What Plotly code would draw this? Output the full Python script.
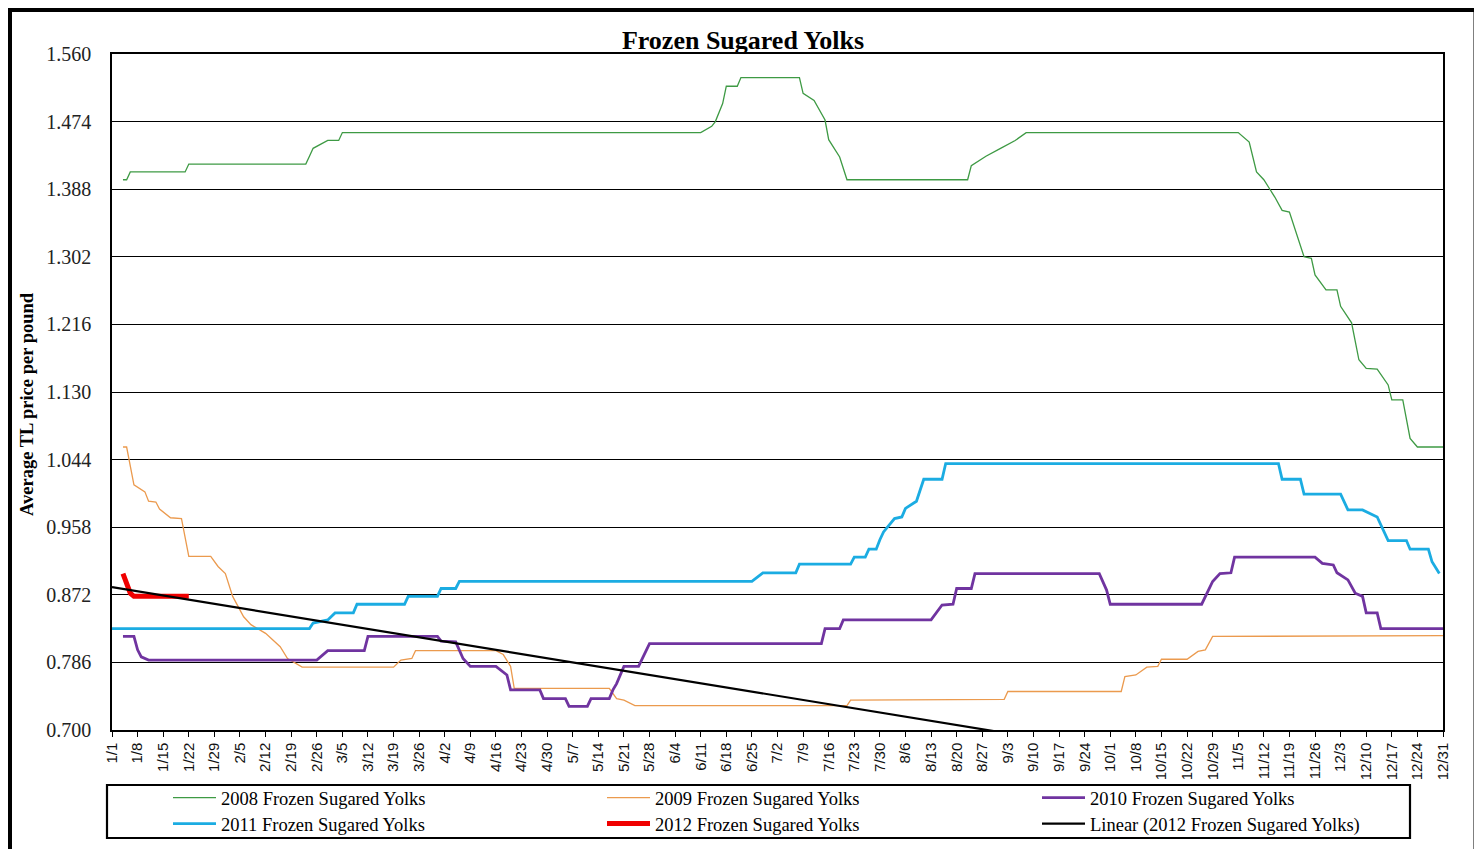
import numpy as np
import plotly.graph_objects as go

# ---------------- data (day index: 0 = 1/1) ----------------
tick_days = list(range(0, 365, 7))
tick_labels = ["1/1", "1/8", "1/15", "1/22", "1/29", "2/5", "2/12", "2/19", "2/26",
               "3/5", "3/12", "3/19", "3/26", "4/2", "4/9", "4/16", "4/23", "4/30",
               "5/7", "5/14", "5/21", "5/28", "6/4", "6/11", "6/18", "6/25",
               "7/2", "7/9", "7/16", "7/23", "7/30", "8/6", "8/13", "8/20", "8/27",
               "9/3", "9/10", "9/17", "9/24", "10/1", "10/8", "10/15", "10/22", "10/29",
               "11/5", "11/12", "11/19", "11/26", "12/3", "12/10", "12/17", "12/24", "12/31"]
y_ticks = [0.700, 0.786, 0.872, 0.958, 1.044, 1.130, 1.216, 1.302, 1.388, 1.474, 1.560]

days_2008 = [3, 4, 5, 20, 21, 53, 54, 55, 59, 62, 63, 161, 164, 165, 167, 168, 171, 172,
             188, 189, 192, 194, 195, 196, 199, 201, 234, 235, 239, 243, 247, 250, 308,
             311, 313, 315, 318, 320, 322, 326, 328, 329, 332, 335, 336, 339, 341, 343,
             346, 349, 350, 353, 355, 357, 364]
price_2008 = [1.400, 1.400, 1.410, 1.410, 1.420, 1.420, 1.430, 1.440, 1.450, 1.450, 1.460,
              1.460, 1.468, 1.474, 1.497, 1.519, 1.519, 1.530, 1.530, 1.510, 1.501, 1.485,
              1.476, 1.451, 1.429, 1.400, 1.400, 1.418, 1.430, 1.440, 1.450, 1.460, 1.460,
              1.448, 1.410, 1.400, 1.378, 1.361, 1.359, 1.302, 1.300, 1.279, 1.260, 1.260,
              1.239, 1.218, 1.171, 1.160, 1.159, 1.139, 1.120, 1.120, 1.071, 1.060, 1.060]

days_2009 = [3, 4, 6, 9, 10, 12, 13, 16, 19, 21, 27, 29, 31, 33, 36, 38, 42, 46, 48, 52,
             77, 79, 82, 83, 105, 107, 109, 110, 136, 138, 140, 143, 201, 202, 244, 245,
             276, 277, 280, 283, 286, 287, 294, 297, 299, 301, 364]
price_2009 = [1.060, 1.060, 1.012, 1.003, 0.991, 0.990, 0.981, 0.970, 0.969, 0.921, 0.921,
              0.908, 0.899, 0.870, 0.844, 0.834, 0.823, 0.806, 0.791, 0.780, 0.780, 0.789,
              0.791, 0.801, 0.801, 0.796, 0.781, 0.753, 0.753, 0.740, 0.738, 0.731, 0.731,
              0.738, 0.739, 0.749, 0.749, 0.768, 0.770, 0.780, 0.781, 0.790, 0.790, 0.800,
              0.802, 0.819, 0.820]

days_2010 = [3, 6, 7, 8, 10, 56, 59, 69, 70, 89, 90, 94, 96, 98, 105, 108, 109, 117, 118,
             124, 125, 130, 131, 136, 137, 138, 140, 144, 147, 194, 195, 199, 200, 224, 227,
             230, 231, 235, 236, 270, 272, 273, 298, 299, 301, 303, 306, 307, 329, 331, 334,
             335, 338, 340, 342, 343, 346, 347, 364]
price_2010 = [0.819, 0.819, 0.802, 0.793, 0.789, 0.789, 0.801, 0.801, 0.819, 0.819, 0.813,
              0.812, 0.791, 0.781, 0.781, 0.770, 0.751, 0.751, 0.740, 0.740, 0.730, 0.730,
              0.740, 0.740, 0.751, 0.759, 0.781, 0.781, 0.810, 0.810, 0.829, 0.829, 0.840,
              0.840, 0.859, 0.860, 0.880, 0.880, 0.899, 0.899, 0.878, 0.860, 0.860, 0.870,
              0.889, 0.899, 0.900, 0.920, 0.920, 0.912, 0.910, 0.900, 0.891, 0.874, 0.870,
              0.849, 0.849, 0.829, 0.829]

days_2011 = [0, 54, 55, 59, 61, 66, 67, 80, 81, 89, 90, 94, 95, 175, 178, 187, 188, 202,
             203, 206, 207, 209, 210, 211, 214, 216, 217, 220, 222, 227, 228, 319, 320, 325,
             326, 336, 338, 342, 346, 349, 354, 355, 360, 361, 363]
price_2011 = [0.829, 0.829, 0.836, 0.840, 0.849, 0.849, 0.860, 0.860, 0.870, 0.870, 0.880,
              0.880, 0.889, 0.889, 0.900, 0.900, 0.911, 0.911, 0.920, 0.920, 0.930, 0.930,
              0.942, 0.952, 0.969, 0.971, 0.982, 0.991, 1.019, 1.019, 1.039, 1.039, 1.019,
              1.019, 1.000, 1.000, 0.980, 0.980, 0.971, 0.941, 0.941, 0.930, 0.930, 0.914,
              0.899]

days_2012 = [3, 4, 5, 6, 7, 8, 9, 10, 11, 12, 13, 14, 15, 16, 17, 18, 19, 20, 21]
price_2012 = [0.899, 0.888, 0.874, 0.870, 0.870, 0.870, 0.870, 0.870, 0.870, 0.870,
              0.870, 0.870, 0.870, 0.870, 0.870, 0.870, 0.870, 0.870, 0.870]

series_names = ["2008 Frozen Sugared Yolks", "2009 Frozen Sugared Yolks", "2010 Frozen Sugared Yolks",
                "2011 Frozen Sugared Yolks", "2012 Frozen Sugared Yolks",
                "Linear (2012 Frozen Sugared Yolks)"]

# Linear trendline of the 2012 series (as in the original chart)
slope, intercept = np.polyfit(days_2012, price_2012, 1)
trend_days = [0, 364]
trend_vals = [intercept + slope * d for d in trend_days]

SERIF = "Liberation Serif"

# page offset: the html body adds an 8px margin around the figure
OFF = 8
W, H = 1482 - OFF, 849 - OFF
L, R, T, B = 112 - OFF, 39, 54 - OFF, 119
PW, PH = W - L - R, H - T - B


def px(xp):  # reference page x -> paper x
    return (xp - OFF - L) / PW


def py(yp):  # reference page y -> paper y
    return (H - B - (yp - OFF)) / PH


traces = [
    (days_2008, price_2008, "#3E9A44", 1.3),
    (days_2009, price_2009, "#EB9A4E", 1.3),
    (days_2010, price_2010, "#7034A0", 2.8),
    (days_2011, price_2011, "#1BACE2", 2.8),
    (days_2012, price_2012, "#F00000", 5),
    (trend_days, trend_vals, "#000000", 2.2),
]
legend_ids = ["legend", "legend2", "legend3", "legend4", "legend5", "legend6"]
legend_text_x = [221, 655, 1090, 221, 655, 1090]
legend_row_y = [798, 798, 798, 824, 824, 824]
ITEMW = 43

fig = go.Figure()
for (xs, ys, col, wd), name, lid in zip(traces, series_names, legend_ids):
    fig.add_trace(go.Scatter(x=xs, y=ys, mode="lines", name=name, showlegend=True,
                             line=dict(color=col, width=wd), legend=lid))

legend_layouts = {}
for lid, tx, ty in zip(legend_ids, legend_text_x, legend_row_y):
    legend_layouts[lid] = dict(
        x=px(tx - ITEMW - 10), y=py(ty), xanchor="left", yanchor="middle",
        orientation="h", bgcolor="rgba(0,0,0,0)", borderwidth=0, itemwidth=ITEMW,
        font=dict(family=SERIF, size=18.5, color="#000000"))

fig.update_layout(
    width=W, height=H, showlegend=True,
    margin=dict(l=L, r=R, t=T, b=B, autoexpand=False),
    paper_bgcolor="#FFFFFF", plot_bgcolor="#FFFFFF",
    font=dict(family=SERIF, color="#000000"),
    title=dict(text="<b>Frozen Sugared Yolks</b>", x=(743 - OFF) / W, xref="container", xanchor="center",
               y=1 - (40 - OFF) / H, yref="container", yanchor="middle",
               font=dict(family=SERIF, size=26, color="#000000")),
    xaxis=dict(range=[0, 364], tickmode="array", tickvals=tick_days, ticktext=tick_labels,
               tickangle=-90, tickfont=dict(family="Liberation Sans", size=15, color="#111111"),
               ticks="outside", ticklen=5, tickcolor="#000000", tickwidth=1,
               showgrid=False, zeroline=False, showline=True, linecolor="#000000",
               linewidth=1.5, mirror=True),
    yaxis=dict(range=[0.700, 1.560], tickmode="array", tickvals=y_ticks, tickformat=".3f",
               tickfont=dict(family=SERIF, size=20, color="#222222"),
               ticklabelstandoff=15,
               showgrid=True, gridcolor="#000000", gridwidth=1.3, zeroline=False,
               showline=True, linecolor="#000000", linewidth=1.5, mirror=True),
    annotations=[dict(text="<b>Average TL price per pound</b>", textangle=-90,
                      xref="paper", yref="paper", x=px(27), y=py(404),
                      xanchor="center", yanchor="middle", showarrow=False,
                      font=dict(family=SERIF, size=18.5, color="#000000"))],
    shapes=[
        dict(type="rect", xref="paper", yref="paper", x0=px(107), x1=px(1410), y0=py(838), y1=py(785),
             line=dict(color="#000000", width=2.2), fillcolor="rgba(0,0,0,0)", layer="above"),
        dict(type="rect", xref="paper", yref="paper", x0=px(10), x1=px(1475.5), y0=py(870), y1=py(10),
             line=dict(color="#000000", width=4), fillcolor="rgba(0,0,0,0)", layer="above"),
    ],
    **legend_layouts,
)

fig.write_html("out.html")
